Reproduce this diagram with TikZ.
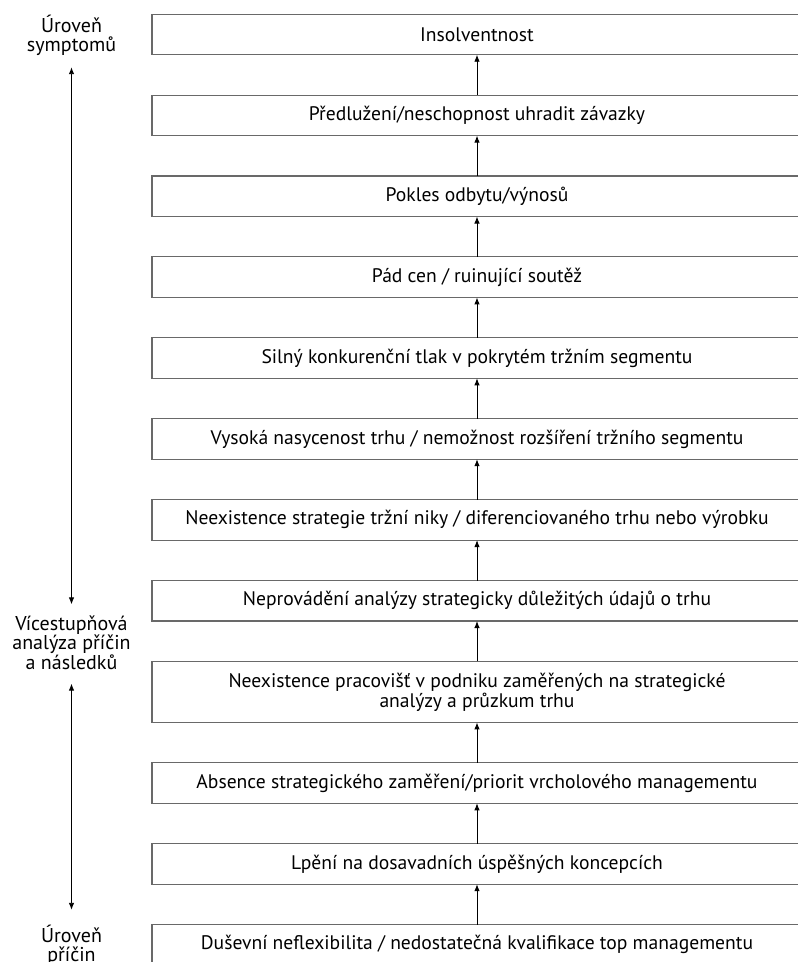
\documentclass[tikz,border=0pt]{standalone}
\usepackage{fontspec}
\setmainfont{PT Sans}
\usepackage{tikz}
\usetikzlibrary{positioning,arrows.meta}
\definecolor{boxgray}{RGB}{105,105,105}
\tikzset{
  level/.style={draw=boxgray, line width=1.1pt, minimum width=650pt, minimum height=40.5pt,
    align=center, inner sep=0pt, outer sep=0pt, font=\fontsize{19.6}{20}\selectfont},
  sidelabel/.style={align=center, inner sep=3pt, font=\fontsize{20}{19.5}\selectfont},
  upflow/.style={-{Latex[length=7pt,width=5.5pt]}, line width=0.9pt},
  bothways/.style={{Latex[length=7pt,width=5.5pt]}-{Latex[length=7pt,width=5.5pt]}, line width=0.9pt}
}

\begin{document}
\begin{tikzpicture}[x=1pt, y=1pt, node distance=40.4pt]
    \useasboundingbox (0,0) rectangle (798,962);

    % Chain of levels, from symptoms down to causes
    \node[level] (insolv) at (477,927.5) {Insolventnost};
    \node[level, below=of insolv] (predluz) {Předlužení/neschopnost uhradit závazky};
    \node[level, below=of predluz] (pokles) {Pokles odbytu/výnosů};
    \node[level, below=of pokles] (padcen) {Pád cen / ruinující soutěž};
    \node[level, below=of padcen] (tlak) {Silný konkurenční tlak v pokrytém tržním segmentu};
    \node[level, below=of tlak] (nasyc) {Vysoká nasycenost trhu / nemožnost rozšíření tržního segmentu};
    \node[level, below=of nasyc] (niky) {Neexistence strategie tržní niky / diferenciovaného trhu nebo výrobku};
    \node[level, below=of niky] (analyzy) {Neprovádění analýzy strategicky důležitých údajů o trhu};
    \node[level, below=of analyzy, minimum height=61pt] (pracov) {Neexistence pracovišť v podniku zaměřených na strategické\\analýzy a průzkum trhu};
    \node[level, below=of pracov] (absence) {Absence strategického zaměření/priorit vrcholového managementu};
    \node[level, below=of absence] (lpeni) {Lpění na dosavadních úspěšných koncepcích};
    \node[level, below=of lpeni] (dusevni) {Duševní neflexibilita / nedostatečná kvalifikace top managementu};

    % Arrows between levels
    \foreach \lower/\upper in {predluz/insolv, pokles/predluz, padcen/pokles, tlak/padcen,
        nasyc/tlak, niky/nasyc, analyzy/niky, pracov/analyzy, absence/pracov,
        lpeni/absence, dusevni/lpeni}
      \draw[upflow] (\lower) -- (\upper);

    % Side labels
    \node[sidelabel] (symptomy) at (71.5,926.5) {Úroveň\\symptomů};
    \node[sidelabel] (vicestup) at (71.5,319.5) {Vícestupňová\\analýza příčin\\a následků};
    \node[sidelabel] (priciny) at (71.5,16.5) {Úroveň\\příčin};
    \draw[bothways, shorten <=8pt, shorten >=8pt] (symptomy) -- (vicestup);
    \draw[bothways, shorten <=11pt, shorten >=12pt] (vicestup) -- (priciny);
\end{tikzpicture}
\end{document}
